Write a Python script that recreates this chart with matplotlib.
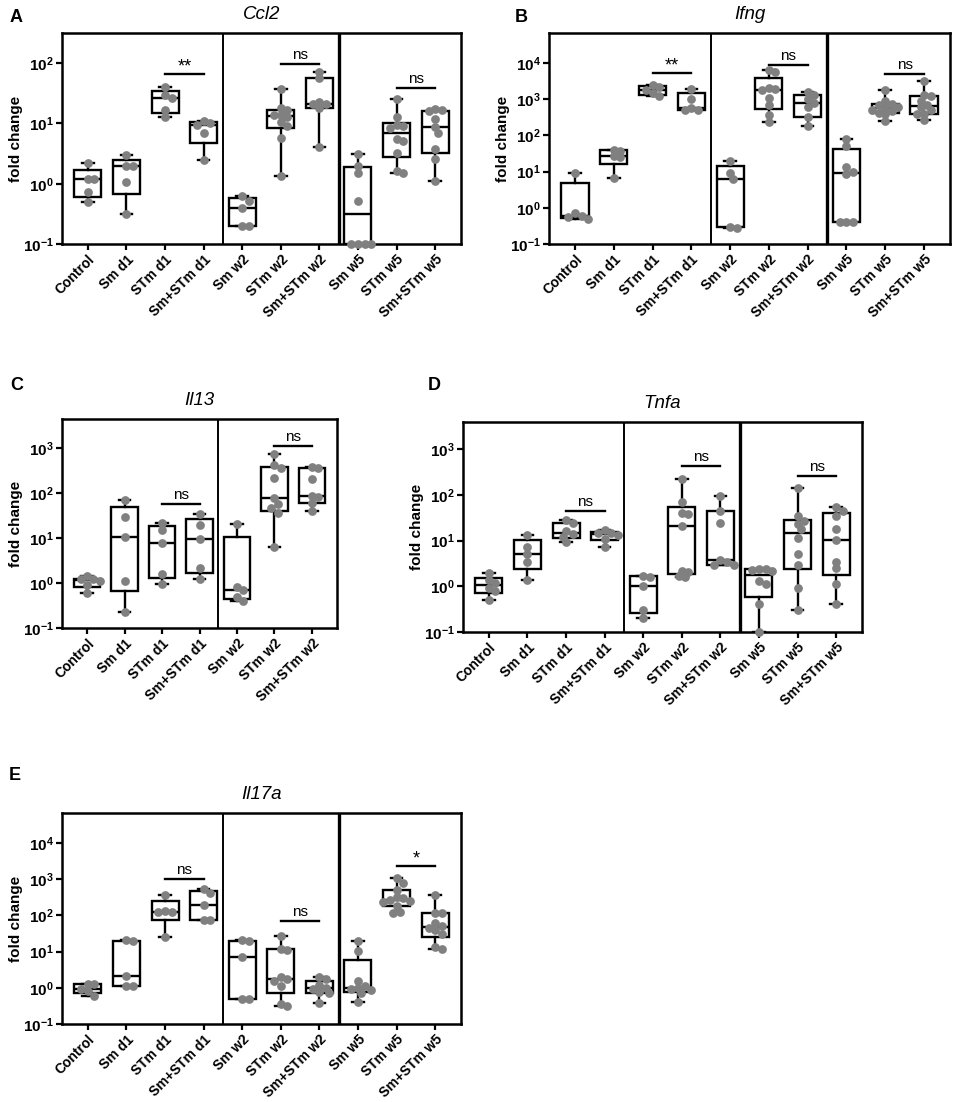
"""Box plots of cytokine fold change (Ccl2, Ifng, Il13, Tnfa, Il17a)"""

import numpy as np
import matplotlib
matplotlib.use("Agg")
import matplotlib.pyplot as plt
from matplotlib.ticker import FixedLocator, FuncFormatter, NullLocator

plt.rcParams['font.family'] = ['Liberation Sans', 'DejaVu Sans']
plt.rcParams['mathtext.fontset'] = 'custom'
plt.rcParams['mathtext.rm'] = 'Liberation Sans:bold'
plt.rcParams['mathtext.bf'] = 'Liberation Sans:bold'

groups = ["Control", "Sm d1", "STm d1", "Sm+STm d1", "Sm w2", "STm w2",
          "Sm+STm w2", "Sm w5", "STm w5", "Sm+STm w5"]

# fold change values per group
ccl2 = [
    [2.2, 1.2, 1.2, 0.72, 0.5],
    [3.0, 2.0, 2.0, 1.05, 0.31],
    [40, 30, 26, 17, 13],
    [11.1, 10.3, 9.4, 6.9, 2.5],
    [0.62, 0.52, 0.40, 0.2, 0.2],
    [36.6, 17.8, 16.5, 14, 13.8, 13, 10.7, 9.2, 5.7, 1.32],
    [72, 56, 23, 21.4, 21, 17.7, 4.1],
    [3.1, 2.0, 1.5, 0.52, 0.1, 0.1, 0.1, 0.1],
    [25, 12.9, 9.5, 9.0, 8.5, 5.5, 5.2, 3.2, 1.6, 1.5],
    [17.1, 16.5, 16, 12, 8.6, 6.9, 3.8, 2.55, 1.12],
]
ifng = [
    [9.2, 0.7, 0.6, 0.55, 0.5],
    [40, 37, 27, 25, 6.6],
    [2500, 2200, 1850, 1450, 1250],
    [1950, 1000, 560, 520, 500],
    [20, 9, 6.2, 0.3, 0.28],
    [6300, 5600, 2100, 1900, 1850, 1100, 700, 360, 240],
    [1600, 1300, 1000, 790, 600, 330, 180],
    [78, 51, 13, 9.5, 8.5, 0.4, 0.4, 0.4],
    [1800, 900, 750, 700, 620, 560, 520, 480, 420, 380, 250],
    [3200, 1300, 1200, 900, 700, 600, 500, 400, 380, 260],
]
il13 = [
    [1.4, 1.2, 1.2, 1.1, 0.9, 0.6],
    [69, 29.6, 10.4, 1.08, 0.23],
    [21, 15, 7.6, 1.6, 0.94],
    [34, 19.4, 9.3, 2.1, 1.22],
    [20.4, 0.81, 0.7, 0.5, 0.4],
    [711, 413, 350, 217, 75, 57, 45, 36, 6.4],
    [370, 350, 200, 86, 80, 60, 40],
]
tnfa = [
    [2.0, 1.4, 1.2, 0.9, 0.8, 0.5],
    [13, 7.2, 5, 3.5, 1.37],
    [28, 24, 16, 14, 12, 9.2],
    [17.4, 15, 14.5, 13.5, 11, 7.4],
    [1.7, 1.6, 1.0, 0.31, 0.2],
    [226, 70, 40, 38, 21, 2.2, 2.1, 1.65, 1.6],
    [97, 44, 25, 3.8, 3.4, 3.0, 2.9],
    [2.4, 2.4, 2.3, 2.2, 1.3, 1.1, 0.41, 0.1],
    [143, 34, 27.5, 23.4, 18, 11.7, 5, 2.9, 0.9, 0.3],
    [54, 45, 35, 18, 10.4, 3.4, 2.5, 1.12, 0.41],
]
il17a = [
    [1.3, 1.25, 0.95, 0.8, 0.6],
    [21, 19.5, 2.1, 1.15, 1.1],
    [356, 130, 128, 125, 25],
    [530, 410, 196, 76, 74],
    [21, 19.5, 7.0, 0.5, 0.48],
    [27, 12, 11, 2.0, 1.7, 1.5, 1.1, 0.35, 0.32],
    [2.0, 1.7, 1.2, 1.0, 0.95, 0.75, 0.7, 0.37],
    [20, 10.5, 1.5, 1.1, 1.0, 0.9, 0.85, 0.7, 0.41],
    [1100, 800, 520, 330, 300, 270, 250, 230, 180, 125, 120],
    [356, 118, 114, 60, 50, 45, 40, 30, 13, 12],
]

# significance brackets: (group a, group b, height, label)
sig_ccl2 = [(2, 3, 67, "**"), (5, 6, 96, "ns"), (8, 9, 38, "ns")]
sig_ifng = [(2, 3, 5300, "**"), (5, 6, 8600, "ns"), (8, 9, 5100, "ns")]
sig_il13 = [(2, 3, 57, "ns"), (5, 6, 1100, "ns")]
sig_tnfa = [(2, 3, 44, "ns"), (5, 6, 430, "ns"), (8, 9, 259, "ns")]
sig_il17a = [(2, 3, 1030, "ns"), (5, 6, 72, "ns"), (8, 9, 2260, "*")]

W, H = 957, 1102
DOT = "#808080"


def box_stats(vals):
    # GraphPad style quartiles, whiskers min to max
    v = np.asarray(vals, dtype=float)
    q1, med, q3 = np.percentile(v, [25, 50, 75], method="weibull")
    return dict(med=med, q1=q1, q3=q3, whislo=v.min(), whishi=v.max(), fliers=[])


def swarm_x(ax, xc, vals, diam, step):
    # simple beeswarm in pixel space so dots do not pile up
    vals = np.asarray(vals, dtype=float)
    xs = np.zeros(len(vals))
    placed = []
    cands = [0]
    for k in range(1, 8):
        cands += [k * step / 2, -k * step / 2]
    for i in np.argsort(-vals):
        for dx in cands:
            p = ax.transData.transform((xc + dx, vals[i]))
            if all(np.hypot(*(p - q)) >= diam for q in placed):
                break
        placed.append(p)
        xs[i] = xc + dx
    return xs


def panel(box_px, data, sigs, ytop, title, letter, letter_px):
    l, t, r, b = box_px
    ax = fig.add_axes([l / W, 1 - b / H, (r - l) / W, (b - t) / H])
    n = len(data)
    ax.set_yscale("log")
    ax.set_xlim(-0.67, n - 1 + 0.67)
    ax.set_ylim(0.1, ytop)

    ax.bxp([box_stats(d) for d in data], positions=range(n), widths=0.7,
           showfliers=False, capwidths=0.3, patch_artist=True,
           boxprops=dict(facecolor="white", edgecolor="black", linewidth=1.7),
           medianprops=dict(color="black", linewidth=1.7),
           whiskerprops=dict(color="black", linewidth=1.7),
           capprops=dict(color="black", linewidth=1.7))

    for i, d in enumerate(data):
        xs = swarm_x(ax, i, d, 6.0, 0.17)
        ax.plot(xs, d, "o", color=DOT, markersize=6.3, markeredgewidth=0,
                zorder=4, clip_on=False)

    for xsep, lw in [(3.5, 1.4), (6.5, 2.4)]:
        if xsep < n - 1:
            ax.axvline(xsep, color="black", linewidth=lw, zorder=1)

    for a, c, y, lab in sigs:
        ax.plot([a, c], [y, y], color="black", linewidth=1.7)
        if lab == "ns":
            ax.annotate(lab, xy=((a + c) / 2, y), xytext=(0, 1.5),
                        textcoords="offset points", ha="center", va="bottom",
                        fontsize=11)
        else:
            ax.annotate(lab, xy=((a + c) / 2, y), xytext=(0, -1),
                        textcoords="offset points", ha="center", va="bottom",
                        fontsize=13)

    top_exp = int(np.floor(np.log10(ytop)))
    ax.yaxis.set_major_locator(FixedLocator([10.0 ** e for e in range(-1, top_exp + 1)]))
    ax.yaxis.set_minor_locator(NullLocator())
    ax.yaxis.set_major_formatter(FuncFormatter(
        lambda v, pos: r"$\mathbf{10^{%d}}$" % int(round(np.log10(v)))))
    ax.set_xticks(range(n))
    ax.set_xticklabels(groups[:n], rotation=45, ha="right", va="top",
                       rotation_mode="anchor", fontsize=10, fontweight="bold")
    ax.tick_params(axis="both", direction="out", length=4, width=1.6, pad=2)
    ax.tick_params(axis="y", labelsize=11)
    ax.set_ylabel("fold change", fontsize=11, fontweight="bold", labelpad=0)
    for s in ax.spines.values():
        s.set_linewidth(1.8)
    ax.set_title(title, fontstyle="italic", fontsize=13.5, pad=10)
    fig.text(letter_px[0] / W, 1 - letter_px[1] / H, letter, fontsize=13,
             fontweight="bold", ha="left", va="center")
    return ax


fig = plt.figure(figsize=(W / 100, H / 100), dpi=100)

panel((62, 33, 461, 244), ccl2, sig_ccl2, 10 ** 2.5, "Ccl2", "A", (10, 18))
panel((549, 33, 950, 244), ifng, sig_ifng, 10 ** 4.83, "Ifng", "B", (515, 18))
panel((62, 419, 337, 628), il13, sig_il13, 10 ** 3.64, "Il13", "C", (10, 385))
panel((463, 422, 862, 632), tnfa, sig_tnfa, 10 ** 3.6, "Tnfa", "D", (428, 385))
panel((62, 813, 461, 1024), il17a, sig_il17a, 10 ** 4.83, "Il17a", "E", (9, 776))

fig.savefig("out.png", dpi=100)
